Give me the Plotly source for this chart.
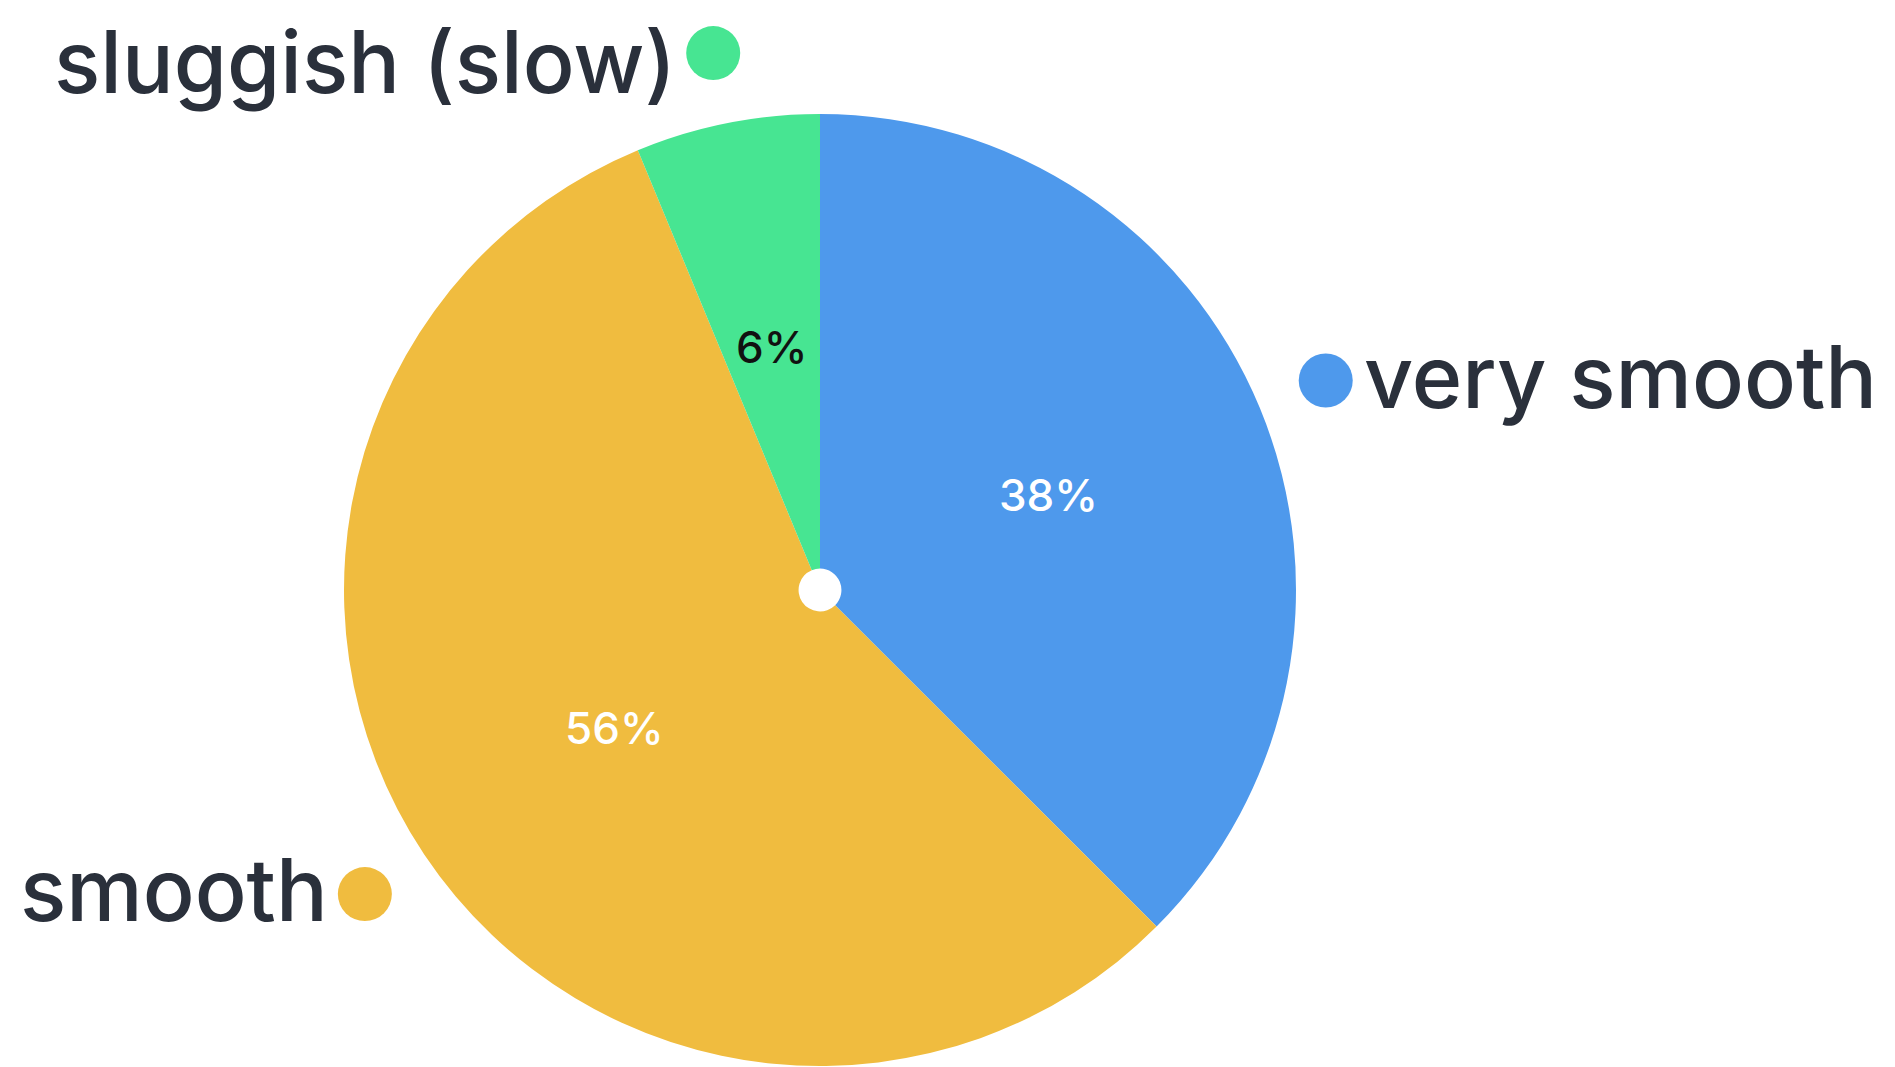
import math
import plotly.graph_objects as go

labels = ["very smooth", "smooth", "sluggish (slow)"]
values = [6, 9, 1]
colors = ["#4E99EC", "#F0BC3F", "#47E592"]
pct_colors = ["#FFFFFF", "#FFFFFF", "#111111"]

W, H = 1895, 1067
CX, CY, R = 812, 582, 476  # pie centre / radius in pixels
FONT = "Inter"
TEXT_COLOR = "#2A303B"
LABEL_SIZE = 86

dom_x = [(CX - R) / W, (CX + R) / W]
dom_y = [(H - CY - R) / H, (H - CY + R) / H]

fig = go.Figure(go.Pie(
    labels=labels, values=values, sort=False, direction="clockwise", rotation=0,
    marker=dict(colors=colors, line=dict(width=0)),
    hole=0.045, textinfo="none", showlegend=False,
    domain=dict(x=dom_x, y=dom_y),
))

total = sum(values)
cum = 0
for lab, v, col, pc in zip(labels, values, colors, pct_colors):
    mid = (cum + v / 2) / total * 2 * math.pi
    cum += v
    sx, sy = math.sin(mid), -math.cos(mid)
    # percentage inside
    px, py = CX + 0.52 * R * sx, CY + 0.52 * R * sy
    fig.add_annotation(x=px / W, y=1 - py / H, xref="paper", yref="paper",
                       text=f"{round(v / total * 100)}%", showarrow=False,
                       font=dict(family=FONT, size=44, color=pc, weight=500),
                       xanchor="center", yanchor="middle")
    # outer dot + label
    dx, dy = CX + 1.15 * R * sx, CY + 1.15 * R * sy
    ax, ay = dx / W, 1 - dy / H
    fig.add_shape(type="circle", xref="paper", yref="paper",
                  xsizemode="pixel", ysizemode="pixel",
                  xanchor=ax, yanchor=ay, x0=-27, x1=27, y0=-27, y1=27,
                  fillcolor=col, line=dict(width=0))
    right = sx > 0
    # keep the label box inside the page: if it would cross the top edge,
    # anchor its top to the page top instead
    half_box = LABEL_SIZE * 0.62
    if dy - 4 - half_box < 0:
        ty, yanchor, yshift = 1.0, "top", 0
    else:
        ty, yanchor, yshift = ay, "middle", 4
    fig.add_annotation(x=ax, y=ty, xref="paper", yref="paper", text=lab,
                       showarrow=False,
                       font=dict(family=FONT, size=LABEL_SIZE, color=TEXT_COLOR, weight=500),
                       xanchor="left" if right else "right", yanchor=yanchor,
                       xshift=(36 if right else -35), yshift=yshift)

fig.update_layout(width=W, height=H, margin=dict(l=0, r=0, t=0, b=0),
                  paper_bgcolor="white", plot_bgcolor="white")
fig.write_html("out.html")
